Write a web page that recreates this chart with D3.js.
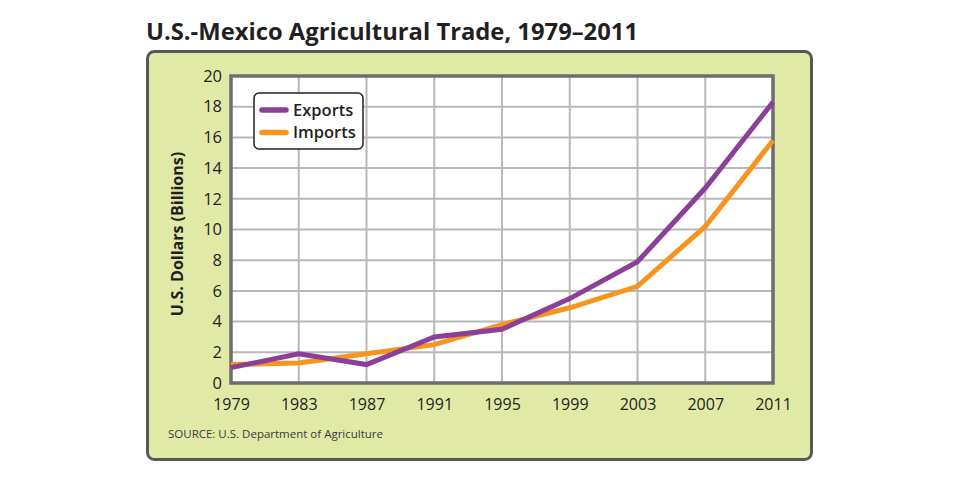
<!DOCTYPE html>
<html>
<head>
<meta charset="utf-8">
<script src="https://cdn.jsdelivr.net/npm/d3@7.9.0/dist/d3.min.js"></script>
<style>
  html, body { margin: 0; padding: 0; background: #fff; }
  svg { display: block; font-family: "Open Sans", "Noto Sans", sans-serif; }
</style>
</head>
<body>
<svg id="chart" width="960" height="485"></svg>
<script>
// ----- Data -----
const years = [1979, 1983, 1987, 1991, 1995, 1999, 2003, 2007, 2011];
const exportsVals = [1.0, 1.9, 1.2, 3.0, 3.5, 5.5, 7.9, 12.7, 18.3];
const importsVals = [1.2, 1.3, 1.9, 2.5, 3.8, 4.9, 6.3, 10.2, 15.8];
const yTicks = [0, 2, 4, 6, 8, 10, 12, 14, 16, 18, 20];
const seriesNames = ["Exports", "Imports"];

const titleText = "U.S.-Mexico Agricultural Trade, 1979\u20132011";
const yLabel = "U.S. Dollars (Billions)";
const sourceText = "SOURCE: U.S. Department of Agriculture";

const colors = { Exports: "#8b3f98", Imports: "#f7941d" };

// ----- Layout -----
const svg = d3.select("#chart");
const plot = { left: 231, right: 773, top: 76, bottom: 383 };

const x = d3.scaleLinear().domain([1979, 2011]).range([plot.left, plot.right]);
const y = d3.scaleLinear().domain([0, 20]).range([plot.bottom, plot.top]);

// Title
svg.append("text")
  .attr("x", 146).attr("y", 40)
  .attr("font-size", 24).attr("font-weight", 700)
  .attr("fill", "#231f20")
  .attr("textLength", 492).attr("lengthAdjust", "spacingAndGlyphs")
  .text(titleText);

// Green panel
svg.append("rect")
  .attr("x", 147.5).attr("y", 51.5)
  .attr("width", 664).attr("height", 408)
  .attr("rx", 7)
  .attr("fill", "#e1e9a6")
  .attr("stroke", "#58585b").attr("stroke-width", 3);

// Plot background
svg.append("rect")
  .attr("x", plot.left).attr("y", plot.top)
  .attr("width", plot.right - plot.left).attr("height", plot.bottom - plot.top)
  .attr("fill", "#fff");

// Grid lines
const grid = svg.append("g").attr("stroke", "#b8b8b8").attr("stroke-width", 2);
grid.selectAll("line.h")
  .data(yTicks.slice(1, -1))
  .join("line")
  .attr("x1", plot.left).attr("x2", plot.right)
  .attr("y1", d => y(d)).attr("y2", d => y(d));
grid.selectAll("line.v")
  .data(years.slice(1, -1))
  .join("line")
  .attr("class", "v")
  .attr("y1", plot.top).attr("y2", plot.bottom)
  .attr("x1", d => x(d)).attr("x2", d => x(d));

// Frame
svg.append("rect")
  .attr("x", plot.left).attr("y", plot.top)
  .attr("width", plot.right - plot.left).attr("height", plot.bottom - plot.top)
  .attr("fill", "none")
  .attr("stroke", "#6d6e71").attr("stroke-width", 3.5);

// Axes (labels only, lines drawn by the frame)
const yAxis = d3.axisLeft(y).tickValues(yTicks).tickSize(0).tickPadding(9);
svg.append("g")
  .attr("transform", `translate(${plot.left},0)`)
  .call(yAxis)
  .call(g => g.select(".domain").remove())
  .call(g => g.selectAll("text")
    .attr("font-size", 16.5).attr("fill", "#231f20")
    .attr("font-family", "'Open Sans', sans-serif"));

const xAxis = d3.axisBottom(x).tickValues(years).tickFormat(d3.format("d")).tickSize(0).tickPadding(16);
svg.append("g")
  .attr("transform", `translate(0,${plot.bottom})`)
  .call(xAxis)
  .call(g => g.select(".domain").remove())
  .call(g => g.selectAll("text")
    .attr("font-size", 16).attr("fill", "#231f20")
    .attr("font-family", "'Open Sans', sans-serif"));

// Y axis title
svg.append("text")
  .attr("transform", "translate(183,234) rotate(-90)")
  .attr("text-anchor", "middle")
  .attr("font-size", 16).attr("font-weight", 700)
  .attr("fill", "#231f20")
  .text(yLabel);

// Lines
const line = d3.line()
  .x((d, i) => x(years[i]))
  .y(d => y(d));

svg.append("path")
  .datum(importsVals)
  .attr("d", line)
  .attr("fill", "none")
  .attr("stroke", colors.Imports)
  .attr("stroke-width", 5)
  .attr("stroke-linejoin", "miter");

svg.append("path")
  .datum(exportsVals)
  .attr("d", line)
  .attr("fill", "none")
  .attr("stroke", colors.Exports)
  .attr("stroke-width", 5)
  .attr("stroke-linejoin", "miter");

// Legend
const legend = svg.append("g").attr("transform", "translate(254,93)");
legend.append("rect")
  .attr("width", 109).attr("height", 56)
  .attr("rx", 5)
  .attr("fill", "#fff")
  .attr("stroke", "#231f20").attr("stroke-width", 1.5);

const items = legend.selectAll("g.item")
  .data(seriesNames)
  .join("g")
  .attr("class", "item")
  .attr("transform", (d, i) => `translate(0,${17 + i * 22.5})`);

items.append("line")
  .attr("x1", 8).attr("x2", 32)
  .attr("stroke", d => colors[d])
  .attr("stroke-width", 5.5)
  .attr("stroke-linecap", "round");

items.append("text")
  .attr("x", 39).attr("dy", "0.35em")
  .attr("font-size", 16.5).attr("font-weight", 600)
  .attr("fill", "#231f20")
  .text(d => d);

// Source
svg.append("text")
  .attr("x", 168).attr("y", 438)
  .attr("font-size", 11.5)
  .attr("fill", "#3a3a3a")
  .text(sourceText);
</script>
</body>
</html>
